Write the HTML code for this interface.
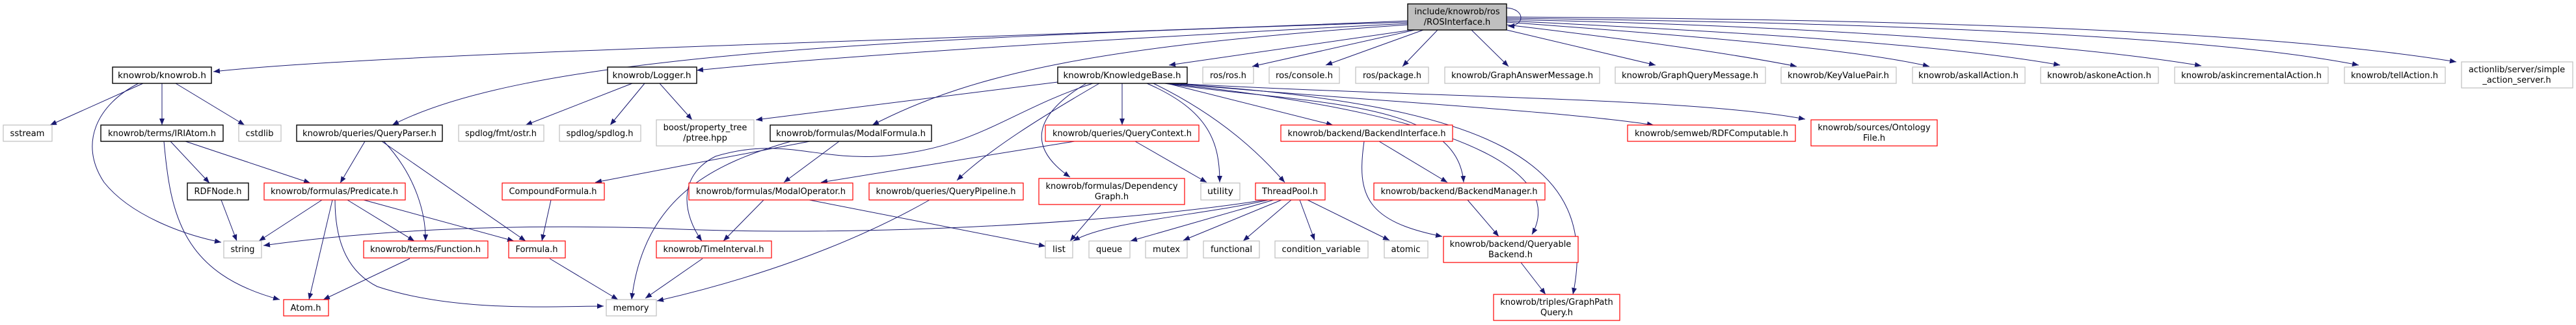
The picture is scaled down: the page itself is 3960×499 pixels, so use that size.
<!DOCTYPE html>
<html><head><meta charset="utf-8"><style>
html,body{margin:0;padding:0;background:#fff;width:3960px;height:499px;overflow:hidden}
svg{display:block}
text{font-family:"DejaVu Sans","Liberation Sans",sans-serif;font-size:13px;fill:#000}
.g{fill:#fff;stroke:#bfbfbf;stroke-width:1.2}
.r{fill:#fff;stroke:#ff0000;stroke-width:1.2}
.b{fill:#fff;stroke:#000;stroke-width:1.4}
.e{fill:none;stroke:#191970;stroke-width:1}
</style></head><body>
<svg width="3960" height="499" viewBox="0 0 3960 499" xmlns="http://www.w3.org/2000/svg">
<defs><marker id="a" markerUnits="userSpaceOnUse" markerWidth="11" markerHeight="8" refX="10" refY="4" orient="auto"><path d="M0,0 L10,4 L0,8 z" fill="#191970"/></marker></defs>
<g class="e" marker-end="url(#a)">
<path d="M2164,32 C1500,60 600,80 328,110"/>
<path d="M2164,34 C1300,60 800,90 603,192"/>
<path d="M2164,36 C1700,60 1300,85 1071,108"/>
<path d="M2164,38 C1700,70 1500,110 1341,192"/>
<path d="M2170,46 L1797,100"/>
<path d="M2175,46 L1925,102"/>
<path d="M2188,46 L2038,100"/>
<path d="M2210,46 L2156,102"/>
<path d="M2262,46 L2319,102"/>
<path d="M2316,46 L2545,100"/>
<path d="M2316,38 C2500,60 2650,80 2762,102"/>
<path d="M2316,34 C2600,55 2850,75 2966,102"/>
<path d="M2316,32 C2700,50 3000,70 3167,100"/>
<path d="M2316,30 C2800,40 3200,70 3384,101"/>
<path d="M2316,28 C2900,35 3400,55 3626,100"/>
<path d="M2316,26 C3000,30 3500,50 3776,95"/>
<path d="M2316,12 C2345,14 2345,40 2318,40"/>
<path d="M220,128 L77,192"/>
<path d="M249,128 L249,192"/>
<path d="M270,128 L376,192"/>
<path d="M213,128 C150,160 120,220 160,280 C200,330 280,360 340,372"/>
<path d="M262,217 L322,281"/>
<path d="M285,217 L477,281"/>
<path d="M252,217 C262,330 280,420 430,460"/>
<path d="M561,217 L523,281"/>
<path d="M590,217 C640,270 655,330 654,370"/>
<path d="M587,217 L808,370"/>
<path d="M972,128 L808,192"/>
<path d="M991,128 L938,192"/>
<path d="M1014,128 L1064,184"/>
<path d="M340,307 L364,370"/>
<path d="M495,307 L398,370"/>
<path d="M511,307 L475,460"/>
<path d="M534,307 L637,370"/>
<path d="M559,307 L790,370"/>
<path d="M515,307 C515,380 540,420 580,440 C700,480 850,470 928,470"/>
<path d="M630,397 L497,460"/>
<path d="M845,397 L950,460"/>
<path d="M847,307 L833,370"/>
<path d="M1245,217 L915,280"/>
<path d="M1216,217 C1100,250 990,300 971,460"/>
<path d="M1290,217 L1205,280"/>
<path d="M1680,128 C1550,170 1500,230 1350,240 C1250,245 1200,210 1100,240 C1040,270 1050,330 1079,370"/>
<path d="M1174,307 L1112,370"/>
<path d="M1244,307 L1607,378"/>
<path d="M1080,397 L992,458"/>
<path d="M1429,307 C1300,380 1150,430 1010,462"/>
<path d="M1652,217 L1262,280"/>
<path d="M1745,217 L1855,280"/>
<path d="M1690,128 C1600,180 1520,230 1471,277"/>
<path d="M1670,128 C1600,170 1570,220 1645,272"/>
<path d="M1626,126 L1162,184"/>
<path d="M1725,128 L1725,192"/>
<path d="M1763,128 C1860,170 1875,220 1875,280"/>
<path d="M1773,128 C1880,180 1940,240 1975,280"/>
<path d="M1794,128 L2049,192"/>
<path d="M1790,128 C2000,160 2240,150 2250,280"/>
<path d="M1792,128 C2300,180 2400,280 2355,360"/>
<path d="M1795,128 C2300,160 2460,250 2418,452"/>
<path d="M1800,128 C2100,155 2400,170 2542,192"/>
<path d="M1805,128 C2200,150 2600,150 2775,183"/>
<path d="M1950,307 C1850,330 1700,340 1650,370"/>
<path d="M1945,307 C1700,345 1300,365 1000,350 C800,345 600,350 405,377"/>
<path d="M1958,307 L1738,370"/>
<path d="M1970,307 L1819,369"/>
<path d="M1985,307 L1911,370"/>
<path d="M1998,307 L2021,369"/>
<path d="M2010,307 L2136,369"/>
<path d="M1692,315 L1645,370"/>
<path d="M2120,217 L2225,280"/>
<path d="M2097,217 C2085,300 2100,340 2217,363"/>
<path d="M2256,307 L2304,363"/>
<path d="M2338,403 L2376,452"/>
</g>
<rect x="2164" y="6" width="152" height="40" fill="#bfbfbf" stroke="#000" stroke-width="1.4"/>
<text x="2240" y="22" text-anchor="middle">include/knowrob/ros</text>
<text x="2240" y="38" text-anchor="middle">/ROSInterface.h</text>
<g text-anchor="middle">
<rect class="b" x="173" y="103" width="152" height="25"/><text x="249" y="120" textLength="136" lengthAdjust="spacingAndGlyphs">knowrob/knowrob.h</text>
<rect class="b" x="456" y="192" width="224" height="25"/><text x="568" y="209" textLength="206" lengthAdjust="spacingAndGlyphs">knowrob/queries/QueryParser.h</text>
<rect class="b" x="934" y="103" width="137" height="25"/><text x="1002" y="120" textLength="121" lengthAdjust="spacingAndGlyphs">knowrob/Logger.h</text>
<rect class="b" x="1184" y="192" width="248" height="25"/><text x="1308" y="209" textLength="230" lengthAdjust="spacingAndGlyphs">knowrob/formulas/ModalFormula.h</text>
<rect class="b" x="1626" y="103" width="199" height="25"/><text x="1725" y="120" textLength="181" lengthAdjust="spacingAndGlyphs">knowrob/KnowledgeBase.h</text>
<rect class="g" x="1849" y="103" width="78" height="25"/><text x="1888" y="120" textLength="56" lengthAdjust="spacingAndGlyphs">ros/ros.h</text>
<rect class="g" x="1951" y="103" width="108" height="25"/><text x="2005" y="120" textLength="88" lengthAdjust="spacingAndGlyphs">ros/console.h</text>
<rect class="g" x="2084" y="103" width="112" height="25"/><text x="2140" y="120" textLength="90" lengthAdjust="spacingAndGlyphs">ros/package.h</text>
<rect class="g" x="2221" y="103" width="238" height="25"/><text x="2340" y="120" textLength="218" lengthAdjust="spacingAndGlyphs">knowrob/GraphAnswerMessage.h</text>
<rect class="g" x="2483" y="103" width="231" height="25"/><text x="2598" y="120" textLength="210" lengthAdjust="spacingAndGlyphs">knowrob/GraphQueryMessage.h</text>
<rect class="g" x="2738" y="103" width="177" height="25"/><text x="2826" y="120" textLength="156" lengthAdjust="spacingAndGlyphs">knowrob/KeyValuePair.h</text>
<rect class="g" x="2940" y="103" width="173" height="25"/><text x="3026" y="120" textLength="154" lengthAdjust="spacingAndGlyphs">knowrob/askallAction.h</text>
<rect class="g" x="3137" y="103" width="181" height="25"/><text x="3227" y="120" textLength="160" lengthAdjust="spacingAndGlyphs">knowrob/askoneAction.h</text>
<rect class="g" x="3343" y="103" width="236" height="25"/><text x="3461" y="120" textLength="216" lengthAdjust="spacingAndGlyphs">knowrob/askincrementalAction.h</text>
<rect class="g" x="3604" y="103" width="155" height="25"/><text x="3681" y="120" textLength="134" lengthAdjust="spacingAndGlyphs">knowrob/tellAction.h</text>
<rect class="g" x="3784" y="95" width="171" height="40"/><text x="3869" y="111">actionlib/server/simple</text><text x="3869" y="127">_action_server.h</text>
<rect class="g" x="5" y="192" width="75" height="25"/><text x="42" y="209" textLength="53" lengthAdjust="spacingAndGlyphs">sstream</text>
<rect class="b" x="155" y="192" width="188" height="25"/><text x="249" y="209" textLength="166" lengthAdjust="spacingAndGlyphs">knowrob/terms/IRIAtom.h</text>
<rect class="g" x="367" y="192" width="65" height="25"/><text x="399" y="209" textLength="43" lengthAdjust="spacingAndGlyphs">cstdlib</text>
<rect class="g" x="705" y="192" width="131" height="25"/><text x="770" y="209" textLength="110" lengthAdjust="spacingAndGlyphs">spdlog/fmt/ostr.h</text>
<rect class="g" x="860" y="192" width="125" height="25"/><text x="922" y="209" textLength="103" lengthAdjust="spacingAndGlyphs">spdlog/spdlog.h</text>
<rect class="g" x="1009" y="184" width="150" height="40"/><text x="1084" y="200">boost/property_tree</text><text x="1084" y="216">/ptree.hpp</text>
<rect class="r" x="1607" y="192" width="236" height="25"/><text x="1725" y="209" textLength="214" lengthAdjust="spacingAndGlyphs">knowrob/queries/QueryContext.h</text>
<rect class="r" x="1969" y="192" width="264" height="25"/><text x="2101" y="209" textLength="243" lengthAdjust="spacingAndGlyphs">knowrob/backend/BackendInterface.h</text>
<rect class="r" x="2502" y="192" width="258" height="25"/><text x="2631" y="209" textLength="236" lengthAdjust="spacingAndGlyphs">knowrob/semweb/RDFComputable.h</text>
<rect class="r" x="2784" y="184" width="194" height="40"/><text x="2881" y="200">knowrob/sources/Ontology</text><text x="2881" y="216">File.h</text>
<rect class="b" x="288" y="281" width="94" height="26"/><text x="335" y="298" textLength="73" lengthAdjust="spacingAndGlyphs">RDFNode.h</text>
<rect class="r" x="406" y="281" width="217" height="26"/><text x="514" y="298" textLength="196" lengthAdjust="spacingAndGlyphs">knowrob/formulas/Predicate.h</text>
<rect class="r" x="772" y="281" width="157" height="26"/><text x="850" y="298" textLength="135" lengthAdjust="spacingAndGlyphs">CompoundFormula.h</text>
<rect class="r" x="1059" y="281" width="252" height="26"/><text x="1185" y="298" textLength="230" lengthAdjust="spacingAndGlyphs">knowrob/formulas/ModalOperator.h</text>
<rect class="r" x="1336" y="281" width="237" height="26"/><text x="1454" y="298" textLength="215" lengthAdjust="spacingAndGlyphs">knowrob/queries/QueryPipeline.h</text>
<rect class="r" x="1597" y="274" width="224" height="40"/><text x="1709" y="290">knowrob/formulas/Dependency</text><text x="1709" y="306">Graph.h</text>
<rect class="g" x="1846" y="281" width="60" height="26"/><text x="1876" y="298" textLength="40" lengthAdjust="spacingAndGlyphs">utility</text>
<rect class="r" x="1930" y="281" width="107" height="26"/><text x="1983" y="298" textLength="86" lengthAdjust="spacingAndGlyphs">ThreadPool.h</text>
<rect class="r" x="2112" y="281" width="263" height="26"/><text x="2243" y="298" textLength="241" lengthAdjust="spacingAndGlyphs">knowrob/backend/BackendManager.h</text>
<rect class="g" x="344" y="370" width="58" height="26"/><text x="373" y="387" textLength="37" lengthAdjust="spacingAndGlyphs">string</text>
<rect class="r" x="559" y="370" width="191" height="26"/><text x="654" y="387" textLength="170" lengthAdjust="spacingAndGlyphs">knowrob/terms/Function.h</text>
<rect class="r" x="782" y="370" width="87" height="26"/><text x="825" y="387" textLength="65" lengthAdjust="spacingAndGlyphs">Formula.h</text>
<rect class="r" x="1009" y="370" width="177" height="26"/><text x="1097" y="387" textLength="155" lengthAdjust="spacingAndGlyphs">knowrob/TimeInterval.h</text>
<rect class="g" x="1607" y="370" width="42" height="26"/><text x="1628" y="387" textLength="20" lengthAdjust="spacingAndGlyphs">list</text>
<rect class="g" x="1674" y="370" width="63" height="26"/><text x="1705" y="387" textLength="40" lengthAdjust="spacingAndGlyphs">queue</text>
<rect class="g" x="1761" y="370" width="64" height="26"/><text x="1793" y="387" textLength="42" lengthAdjust="spacingAndGlyphs">mutex</text>
<rect class="g" x="1850" y="370" width="86" height="26"/><text x="1893" y="387" textLength="64" lengthAdjust="spacingAndGlyphs">functional</text>
<rect class="g" x="1960" y="370" width="143" height="26"/><text x="2031" y="387" textLength="121" lengthAdjust="spacingAndGlyphs">condition_variable</text>
<rect class="g" x="2128" y="370" width="67" height="26"/><text x="2161" y="387" textLength="45" lengthAdjust="spacingAndGlyphs">atomic</text>
<rect class="r" x="2219" y="363" width="207" height="40"/><text x="2322" y="379">knowrob/backend/Queryable</text><text x="2322" y="395">Backend.h</text>
<rect class="r" x="436" y="460" width="69" height="25"/><text x="470" y="477" textLength="47" lengthAdjust="spacingAndGlyphs">Atom.h</text>
<rect class="g" x="932" y="460" width="77" height="25"/><text x="970" y="477" textLength="55" lengthAdjust="spacingAndGlyphs">memory</text>
<rect class="r" x="2296" y="452" width="194" height="40"/><text x="2393" y="468">knowrob/triples/GraphPath</text><text x="2393" y="484">Query.h</text>
</g>
</svg>
</body></html>
